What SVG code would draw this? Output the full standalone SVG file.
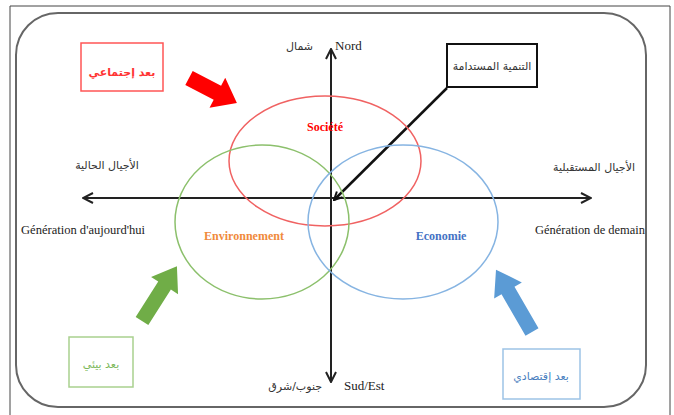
<svg xmlns="http://www.w3.org/2000/svg" width="674" height="415" viewBox="0 0 674 415">
<defs>
<style>
.fr{font-family:"Liberation Serif","DejaVu Serif",serif;font-size:13px;fill:#222}
.ar{font-family:"DejaVu Sans","Noto Sans",sans-serif;font-size:11px;fill:#333}
.ax{stroke:#222;stroke-width:2;fill:none}
</style>
<marker id="ah" viewBox="0 0 12 12" refX="11" refY="6" markerWidth="12" markerHeight="12" markerUnits="userSpaceOnUse" orient="auto-start-reverse">
<path d="M1,1 L11,6 L1,11" fill="none" stroke="#222" stroke-width="2"/>
</marker>
<marker id="ahs" viewBox="0 0 10 10" refX="9" refY="5" markerWidth="10" markerHeight="10" markerUnits="userSpaceOnUse" orient="auto">
<path d="M1,1 L9,5 L1,9" fill="none" stroke="#111" stroke-width="2"/>
</marker>
</defs>
<rect width="674" height="415" fill="#fff"/>
<g id="frame">
<path d="M10,415 V6 H670 V415" fill="none" stroke="#444" stroke-width="1"/>
<rect x="16" y="13" width="630" height="394" rx="42" ry="42" fill="none" stroke="#666" stroke-width="2"/>
</g>
<g id="connectors">
<line class="ax" x1="331" y1="49" x2="331" y2="382" marker-start="url(#ah)" marker-end="url(#ah)"/>
<line class="ax" x1="83" y1="198" x2="591" y2="198" marker-start="url(#ah)" marker-end="url(#ah)"/>
<line x1="447" y1="88" x2="334" y2="200" stroke="#111" stroke-width="2.5" marker-end="url(#ahs)"/>
<path d="M0,-8 L32,-8 L32,-17 L54,0 L32,17 L32,8 L0,8 Z" fill="#ff0000" transform="translate(189,78) rotate(27.5)"/>
<path d="M0,-7.5 L42,-7.5 L42,-16 L65,0 L42,16 L42,7.5 L0,7.5 Z" fill="#70ad47" transform="translate(142,321) rotate(-57.5)"/>
<path d="M0,-7.5 L48,-7.5 L48,-16 L72,0 L48,16 L48,7.5 L0,7.5 Z" fill="#5b9bd5" transform="translate(532,332) rotate(-120)"/>
</g>
<g id="societe">
<ellipse cx="325" cy="161" rx="96" ry="65" fill="none" stroke="#f06262" stroke-width="1.5"/>
<text x="325" y="131" text-anchor="middle" class="fr" style="fill:#ff0000;font-weight:bold;font-size:12px">Société</text>
</g>
<g id="environnement">
<ellipse cx="262" cy="222" rx="87" ry="77" fill="none" stroke="#8cc06c" stroke-width="1.5"/>
<text x="244" y="240" text-anchor="middle" class="fr" style="fill:#f08a3c;font-weight:bold;font-size:12px">Environnement</text>
</g>
<g id="economie">
<ellipse cx="403" cy="222" rx="95" ry="77" fill="none" stroke="#86b4e2" stroke-width="1.5"/>
<text x="441" y="240" text-anchor="middle" class="fr" style="fill:#4472c4;font-weight:bold;font-size:12px">Economie</text>
</g>
<g id="labels">
<text x="335" y="50" class="fr">Nord</text>
<text x="313" y="50" text-anchor="end" class="ar" font-size="10">شمال</text>
<text x="344" y="390" class="fr">Sud/Est</text>
<text x="322" y="390" text-anchor="end" class="ar">جنوب/شرق</text>
<text x="107" y="169" text-anchor="middle" class="ar">الأجيال الحالية</text>
<text x="83" y="234" text-anchor="middle" class="fr" textLength="124" lengthAdjust="spacingAndGlyphs">Génération d'aujourd'hui</text>
<text x="594" y="171" text-anchor="middle" class="ar">الأجيال المستقبلية</text>
<text x="590" y="234" text-anchor="middle" class="fr" textLength="110" lengthAdjust="spacingAndGlyphs">Génération de demain</text>
</g>
<g id="sustainable">
<rect x="447" y="44" width="90" height="43" fill="#fff" stroke="#111" stroke-width="2"/>
<text x="492" y="70" text-anchor="middle" class="ar" font-size="10">التنمية المستدامة</text>
</g>
<g id="social">
<rect x="81" y="43" width="82" height="48" fill="none" stroke="#ff5555" stroke-width="1.5"/>
<text x="122" y="76" text-anchor="middle" class="ar" style="fill:#ff3333;font-weight:bold">بعد إجتماعي</text>
</g>
<g id="ecological">
<rect x="69" y="337" width="64" height="50" fill="none" stroke="#a9d18e" stroke-width="1.5"/>
<text x="101" y="368" text-anchor="middle" class="ar" style="fill:#7cb85a">بعد بيئي</text>
</g>
<g id="economic">
<rect x="503" y="349" width="77" height="50" fill="none" stroke="#9dc3e6" stroke-width="1.5"/>
<text x="541" y="380" text-anchor="middle" class="ar" style="fill:#4a7fc0">بعد إقتصادي</text>
</g>
</svg>
